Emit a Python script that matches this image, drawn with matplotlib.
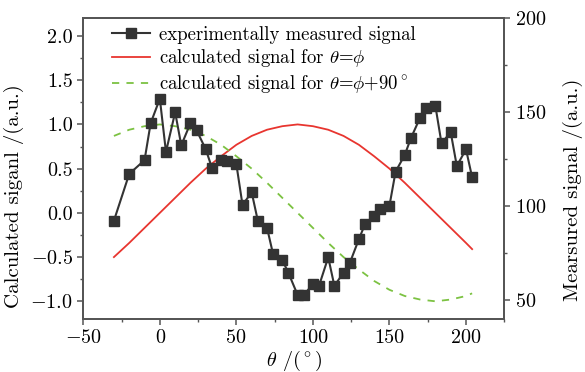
import matplotlib
matplotlib.use("Agg")
import matplotlib.pyplot as plt
from matplotlib.ticker import MultipleLocator, FuncFormatter

plt.rcParams['font.family'] = 'serif'
plt.rcParams['font.serif'] = ['cmr10']
plt.rcParams['mathtext.fontset'] = 'cm'
plt.rcParams['axes.formatter.use_mathtext'] = True
plt.rcParams['axes.unicode_minus'] = True

# measured signal (right axis)
theta_meas = [-30, -20, -10, -6, 0, 4, 10, 14, 20, 24, 30, 34, 40, 44, 50, 54,
              60, 64, 70, 74, 80, 84, 90, 94, 100, 104, 110, 114, 120, 124, 130,
              134, 140, 144, 150, 154, 160, 164, 170, 174, 180, 184, 190, 194,
              200, 204]
measured = [92.3, 117.2, 124.5, 144.2, 157.2, 128.9, 150.0, 132.4, 144.2, 140.4,
            130.3, 120.5, 124.6, 124.2, 122.3, 100.7, 107.4, 92.3, 88.6, 74.4,
            71.4, 64.5, 52.8, 52.8, 58.5, 57.7, 72.8, 57.7, 64.6, 69.6, 82.4,
            90.4, 94.8, 98.5, 100.3, 118.4, 127.3, 136.2, 147.1, 152.1, 153.4,
            133.5, 139.4, 121.4, 130.3, 115.4]

# calculated signals (left axis)
theta_calc = [-30, -20, -10, 0, 10, 20, 30, 40, 50, 60, 70, 80, 90, 100, 110,
              120, 130, 140, 150, 160, 170, 180, 190, 200, 204]
calc_same = [-0.50, -0.34, -0.17, 0.00, 0.17, 0.34, 0.50, 0.64, 0.77, 0.87, 0.94,
             0.98, 1.00, 0.98, 0.94, 0.87, 0.77, 0.64, 0.50, 0.34, 0.17, 0.00,
             -0.17, -0.34, -0.41]
calc_90 = [0.87, 0.94, 0.98, 1.00, 0.98, 0.94, 0.87, 0.77, 0.64, 0.50, 0.34, 0.17,
           0.00, -0.17, -0.34, -0.50, -0.64, -0.77, -0.87, -0.94, -0.98, -1.00,
           -0.98, -0.94, -0.91]

fig = plt.figure(figsize=(5.85, 3.72), dpi=100)
ax = fig.add_axes([0.1424, 0.1425, 0.7196, 0.8083])
ax2 = ax.twinx()

l_red, = ax.plot(theta_calc, calc_same, color='#e8352f', lw=1.3,
                 label=r'calculated signal for $\theta$=$\phi$')
l_grn, = ax.plot(theta_calc, calc_90, color='#7cc242', lw=1.3, ls=(0, (4, 4)),
                 label=r'calculated signal for $\theta$=$\phi$+90$^\circ$')
l_blk, = ax2.plot(theta_meas, measured, color='#333333', lw=1.5, marker='s',
                  markersize=6.5, markeredgecolor='#333333',
                  label='experimentally measured signal')

ax.set_xlim(-50, 225)
ax.set_ylim(-1.2, 2.2)
ax2.set_ylim(40, 200)

ax.xaxis.set_major_locator(MultipleLocator(50))
ax.xaxis.set_minor_locator(MultipleLocator(25))
ax.yaxis.set_major_locator(MultipleLocator(0.5))
ax.yaxis.set_minor_locator(MultipleLocator(0.25))
ax2.yaxis.set_major_locator(MultipleLocator(50))
ax2.yaxis.set_minor_locator(MultipleLocator(25))

ax.yaxis.set_major_formatter(FuncFormatter(
    lambda v, p: ('$-$' if v < 0 else '') + f'{abs(v):.1f}'))
ax.xaxis.set_major_formatter(FuncFormatter(
    lambda v, p: ('$-$' if v < 0 else '') + f'{abs(v):.0f}'))

spine_col = '#555555'
for a in (ax, ax2):
    for s in a.spines.values():
        s.set_color(spine_col)
        s.set_linewidth(1.3)
    a.tick_params(which='major', direction='out', length=4, width=1.1,
                  color=spine_col, labelsize=14.5)
    a.tick_params(which='minor', direction='out', length=2.5, width=1.0,
                  color=spine_col)
ax.tick_params(axis='both', which='both', top=False, right=False)
ax2.tick_params(axis='y', which='both', left=False, right=True)

ax.set_xlabel(r'$\theta$ /($^\circ$)', fontsize=14.5, labelpad=1)
ax.set_ylabel('Calculated siganl /(a.u.)', fontsize=15)
ax2.set_ylabel('Mearsured signal /(a.u.)', fontsize=15)
ax.yaxis.set_label_coords(-0.141, 0.41)
ax2.yaxis.set_label_coords(1.140, 0.43)

ax2.legend(handles=[l_blk, l_red, l_grn], loc='upper left', frameon=False,
           fontsize=13.5, handlelength=2.0, handletextpad=0.5, labelspacing=0.2,
           borderaxespad=0.0, borderpad=0.2, bbox_to_anchor=(0.06, 0.988))

fig.savefig('out.png', dpi=100)
